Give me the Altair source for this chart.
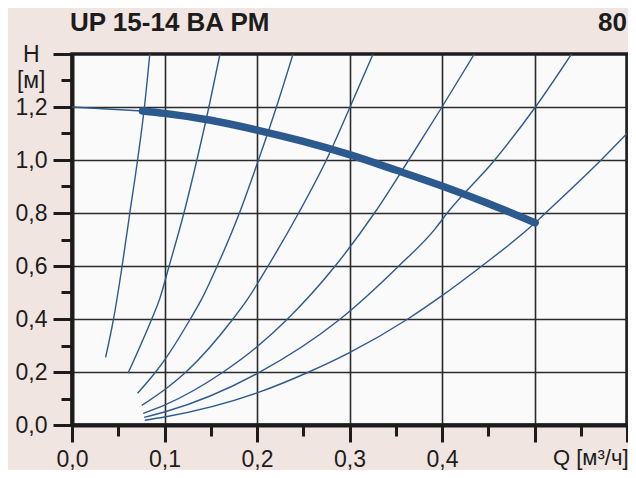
import altair as alt
import pandas as pd

# ---- texts ----
title_text = ["UP 15-14 BA PM"]
page_no = ["80"]
x_title = "Q [м³/ч]"

# ---- axis ticks ----
x_ticks = [0.0, 0.05, 0.1, 0.15, 0.2, 0.25, 0.3, 0.35, 0.4, 0.45, 0.5, 0.55, 0.6]
y_ticks = [0.0, 0.1, 0.2, 0.3, 0.4, 0.5, 0.6, 0.7, 0.8, 0.9, 1.0, 1.1, 1.2, 1.3, 1.4]

# ---- system curves (Q in m3/h, H in m) ----
c1_q = [0.0363, 0.0449, 0.0542, 0.0625, 0.0709, 0.0783, 0.0841]
c1_h = [0.255, 0.4, 0.6, 0.8, 1.0, 1.2, 1.4]
c2_q = [0.0605, 0.0862, 0.0948, 0.105, 0.121, 0.135, 0.148, 0.160]
c2_h = [0.195, 0.4, 0.476, 0.6, 0.8, 1.0, 1.2, 1.4]
c3_q = [0.0709, 0.0904, 0.1, 0.1279, 0.1403, 0.157, 0.181, 0.2016, 0.221, 0.239]
c3_h = [0.12, 0.2, 0.245, 0.4, 0.476, 0.6, 0.8, 1.0, 1.2, 1.4]
c4_q = [0.0755, 0.1, 0.1232, 0.174, 0.190, 0.212, 0.245, 0.275, 0.3006, 0.3255]
c4_h = [0.074, 0.133, 0.2, 0.4, 0.476, 0.6, 0.8, 1.0, 1.2, 1.4]
c5_q = [0.0769, 0.1, 0.1635, 0.2, 0.233, 0.2845, 0.327, 0.364, 0.4, 0.435]
c5_h = [0.044, 0.075, 0.2, 0.295, 0.4, 0.6, 0.8, 1.0, 1.2, 1.4]
c6_q = [0.078, 0.1, 0.2, 0.29, 0.3533, 0.393, 0.4056, 0.457, 0.501, 0.54]
c6_h = [0.029, 0.049, 0.194, 0.4, 0.6, 0.742, 0.8, 1.0, 1.2, 1.4]
c7_q = [0.0787, 0.1, 0.2, 0.256, 0.3, 0.363, 0.4, 0.443, 0.5007, 0.512, 0.572, 0.6]
c7_h = [0.018, 0.03, 0.121, 0.2, 0.273, 0.4, 0.488, 0.6, 0.763, 0.8, 1.0, 1.1]

# ---- pump curve ----
pump_q = [0.0762, 0.1, 0.15, 0.2, 0.25, 0.3, 0.35, 0.4, 0.45, 0.5007]
pump_h = [1.185, 1.176, 1.15, 1.113, 1.07, 1.02, 0.962, 0.902, 0.836, 0.763]
lead_q = [0.0, 0.0762]
lead_h = [1.2, 1.185]

BLUE = "#2c5a8e"
INK = "#1c1c1c"
FONT = "Liberation Sans"
PLOT_W = 555
PLOT_H = 371

rows = []
for name, qs, hs in [("c1", c1_q, c1_h), ("c2", c2_q, c2_h), ("c3", c3_q, c3_h),
                     ("c4", c4_q, c4_h), ("c5", c5_q, c5_h), ("c6", c6_q, c6_h),
                     ("c7", c7_q, c7_h)]:
    for i, (q, h) in enumerate(zip(qs, hs)):
        rows.append({"curve": name, "i": i, "q": q, "h": h})
sys_df = pd.DataFrame(rows)
pump_df = pd.DataFrame({"q": pump_q, "h": pump_h, "i": range(len(pump_q))})
lead_df = pd.DataFrame({"q": lead_q, "h": lead_h, "i": range(len(lead_q))})

xmajor = "abs(datum.value*10 - round(datum.value*10)) < 0.001"
ymajor = "abs(datum.value*5 - round(datum.value*5)) < 0.001"

x_axis = alt.Axis(
    values=x_ticks,
    labelExpr=f"({xmajor}) && datum.value < 0.45 ? replace(format(datum.value, '.1f'), '.', ',') : ''",
    tickSize={"condition": {"test": xmajor, "value": 17}, "value": 11},
    gridOpacity={"condition": {"test": xmajor, "value": 1}, "value": 0},
    labelPadding=6,
    labelOverlap=False,
    labelFlush=False,
    title=x_title,
    titleAnchor="end",
    titleAlign="right",
    titleBaseline="middle",
    titleX=PLOT_W + 1,
    titleY=32,
    titleFont=FONT,
    titleFontSize=22,
    titleFontWeight="normal",
    titleColor=INK,
)

y_axis = alt.Axis(
    values=y_ticks,
    labelExpr=("abs(datum.value-1.4)<0.001 ? 'H' : abs(datum.value-1.3)<0.001 ? '[м]' : "
               f"(({ymajor}) ? replace(format(datum.value, '.1f'), '.', ',') : '')"),
    tickSize={"condition": {"test": ymajor, "value": 19}, "value": 11},
    gridOpacity={"condition": {"test": f"({ymajor}) && datum.value < 1.35", "value": 1}, "value": 0},
    labelPadding={"condition": [
        {"test": "abs(datum.value-1.4)<0.001", "value": 14},
        {"test": "abs(datum.value-1.3)<0.001", "value": 16},
    ], "value": 6},
    labelOverlap=False,
    labelFlush=False,
    title=None,
)

xenc = alt.X("q:Q", scale=alt.Scale(domain=[0, 0.6], nice=False, zero=False), axis=x_axis)
yenc = alt.Y("h:Q", scale=alt.Scale(domain=[0, 1.4], nice=False, zero=False), axis=y_axis)

sys_lines = alt.Chart(sys_df).mark_line(
    interpolate="monotone", clip=True, strokeWidth=1.4, color=BLUE
).encode(x=xenc, y=yenc, detail="curve:N", order="i:Q")

lead_line = alt.Chart(lead_df).mark_line(
    clip=True, strokeWidth=1.6, color=BLUE
).encode(x=xenc, y=yenc, order="i:Q")

pump_line = alt.Chart(pump_df).mark_line(
    interpolate="monotone", clip=True, strokeWidth=7.5, color=BLUE, strokeCap="round"
).encode(x=xenc, y=yenc, order="i:Q")

title_mark = alt.Chart(pd.DataFrame({"t": title_text})).mark_text(
    align="left", baseline="middle", font=FONT, fontSize=26, fontWeight="bold", color=INK
).encode(x=alt.value(-2), y=alt.value(-31), text="t:N")

page_mark = alt.Chart(pd.DataFrame({"t": page_no})).mark_text(
    align="right", baseline="middle", font=FONT, fontSize=26, fontWeight="bold", color=INK
).encode(x=alt.value(PLOT_W), y=alt.value(-31), text="t:N")

chart = alt.layer(sys_lines, lead_line, pump_line, title_mark, page_mark).properties(
    width=PLOT_W,
    height=PLOT_H,
    padding={"left": 64, "top": 46, "right": 1, "bottom": 45},
    autosize="none",
    background="#f0e5e0",
).configure_view(
    fill="#fbfafa", stroke=INK, strokeWidth=3.5
).configure_axis(
    domainColor=INK, domainWidth=4,
    tickColor=INK, tickWidth=3,
    gridColor="#2b2b2b", gridWidth=1.6,
    labelFont=FONT, labelFontSize=23, labelColor=INK,
)

chart.save("out.html", embed_options={"renderer": "svg", "actions": False})
